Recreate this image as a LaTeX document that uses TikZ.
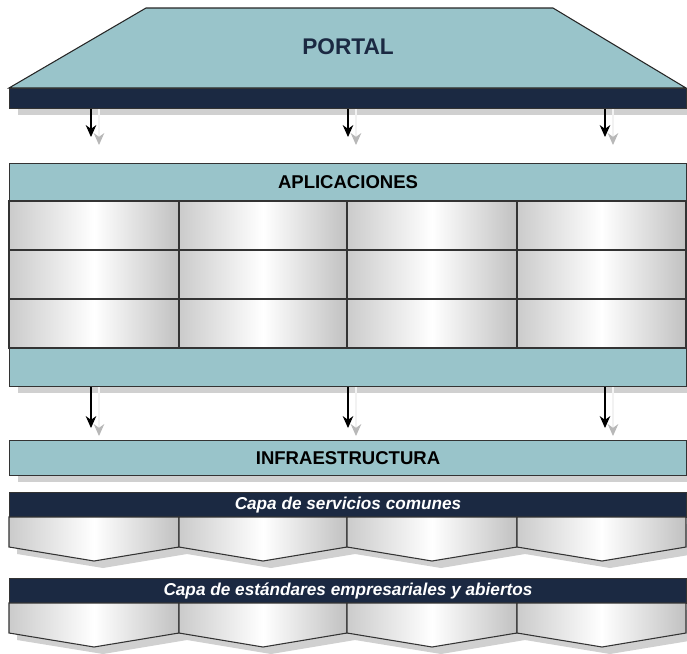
\documentclass[tikz,border=0pt]{standalone}
\usepackage{fontspec}
\setmainfont{Liberation Sans}
\usetikzlibrary{positioning,arrows.meta,calc}

\definecolor{portalteal}{HTML}{99C4CA}
\definecolor{darknavy}{HTML}{1B2942}
\definecolor{cellgray}{HTML}{CBCBCB}
\definecolor{shadowgray}{HTML}{D0D0D0}
\newcommand{\pxlen}{0.75pt}

\begin{document}
\begin{tikzpicture}[x=0.75pt,y=-0.75pt,line width=0.8pt]
	\tikzstyle{box}=[rectangle,anchor=north west,inner sep=0pt,draw=black!80,minimum width=677*\pxlen]
	\tikzstyle{tealbox}=[box,fill=portalteal,font=\fontsize{13.9}{16}\selectfont\bfseries]
	\tikzstyle{navybox}=[box,fill=darknavy,text=white,font=\fontsize{12.9}{15}\selectfont\bfseries\itshape]
	\tikzstyle{cell}=[draw=black!80,left color=cellgray,right color=cellgray!95!black,middle color=white]
	\tikzstyle{shadow}=[fill=shadowgray,draw=none]
	\tikzstyle{flow}=[-{Stealth[length=9pt,width=8pt]},black,line width=0.8pt]
	\tikzstyle{flowshadow}=[-{Stealth[length=9pt,width=8pt,color=black!28]},draw=black!5,line width=0.8pt]

	\useasboundingbox (0,0) rectangle (687,654);

	%portal
	\draw[black!85,fill=portalteal] (9,88) -- (146,8) -- (553,8) -- (686,88) -- cycle;
	\node[font=\fontsize{17}{20}\selectfont\bfseries,text=darknavy] (portal) at (348,47) {PORTAL};
	\fill[shadow] (18,108) rectangle (695,115);
	\node[box,fill=darknavy,minimum height=20*\pxlen] (portalbar) at (9,88) {};

	%arrows portal -> aplicaciones
	\coordinate (t1) at (91,137);
	\coordinate (t2) at (348,137);
	\coordinate (t3) at (605,137);
	\coordinate (u1) at (99,145);
	\coordinate (u2) at (356,145);
	\coordinate (u3) at (613,145);
	\draw[flowshadow] (u1 |- portalbar.south) -- (u1);
	\draw[flowshadow] (u2 |- portalbar.south) -- (u2);
	\draw[flowshadow] (u3 |- portalbar.south) -- (u3);
	\draw[flow] (t1 |- portalbar.south) -- (t1);
	\draw[flow] (t2 |- portalbar.south) -- (t2);
	\draw[flow] (t3 |- portalbar.south) -- (t3);

	%aplicaciones
	\fill[shadow] (18,386) rectangle (695,393);
	\node[tealbox,minimum height=38*\pxlen] (apps) at (9,163) {APLICACIONES};
	\draw[cell] (9,201) rectangle (179,250);
	\draw[cell] (179,201) rectangle (347,250);
	\draw[cell] (347,201) rectangle (517,250);
	\draw[cell] (517,201) rectangle (686,250);
	\draw[cell] (9,250) rectangle (179,299);
	\draw[cell] (179,250) rectangle (347,299);
	\draw[cell] (347,250) rectangle (517,299);
	\draw[cell] (517,250) rectangle (686,299);
	\draw[cell] (9,299) rectangle (179,348);
	\draw[cell] (179,299) rectangle (347,348);
	\draw[cell] (347,299) rectangle (517,348);
	\draw[cell] (517,299) rectangle (686,348);
	\node[tealbox,minimum height=38*\pxlen] (appsbase) at (9,348) {};

	%arrows aplicaciones -> infraestructura
	\coordinate (v1) at (91,428);
	\coordinate (v2) at (348,428);
	\coordinate (v3) at (605,428);
	\coordinate (w1) at (99,436);
	\coordinate (w2) at (356,436);
	\coordinate (w3) at (613,436);
	\draw[flowshadow] (w1 |- appsbase.south) -- (w1);
	\draw[flowshadow] (w2 |- appsbase.south) -- (w2);
	\draw[flowshadow] (w3 |- appsbase.south) -- (w3);
	\draw[flow] (v1 |- appsbase.south) -- (v1);
	\draw[flow] (v2 |- appsbase.south) -- (v2);
	\draw[flow] (v3 |- appsbase.south) -- (v3);

	%infraestructura
	\fill[shadow] (18,475) rectangle (695,482);
	\node[tealbox,minimum height=35*\pxlen] (infra) at (9,440) {INFRAESTRUCTURA};

	%capa de servicios comunes
	\fill[shadow] (17,524) -- (695,524) -- (695,554) -- (610,568) -- (525,554) -- (441,568) -- (355,554) -- (271,568) -- (187,554) -- (103,568) -- (17,554) -- cycle;
	\node[navybox,minimum height=25*\pxlen] (servicios) at (9,492) {Capa de servicios comunes};
	\draw[cell] (9,517) -- (179,517) -- (179,547) -- (94,561) -- (9,547) -- cycle;
	\draw[cell] (179,517) -- (347,517) -- (347,547) -- (263,561) -- (179,547) -- cycle;
	\draw[cell] (347,517) -- (517,517) -- (517,547) -- (432,561) -- (347,547) -- cycle;
	\draw[cell] (517,517) -- (686,517) -- (686,547) -- (602,561) -- (517,547) -- cycle;

	%capa de estandares
	\fill[shadow] (17,610) -- (695,610) -- (695,640) -- (610,654) -- (525,640) -- (441,654) -- (355,640) -- (271,654) -- (187,640) -- (103,654) -- (17,640) -- cycle;
	\node[navybox,minimum height=25*\pxlen] (estandares) at (9,578) {Capa de estándares empresariales y abiertos};
	\draw[cell] (9,603) -- (179,603) -- (179,633) -- (94,647) -- (9,633) -- cycle;
	\draw[cell] (179,603) -- (347,603) -- (347,633) -- (263,647) -- (179,633) -- cycle;
	\draw[cell] (347,603) -- (517,603) -- (517,633) -- (432,647) -- (347,633) -- cycle;
	\draw[cell] (517,603) -- (686,603) -- (686,633) -- (602,647) -- (517,633) -- cycle;

\end{tikzpicture}
\end{document}
